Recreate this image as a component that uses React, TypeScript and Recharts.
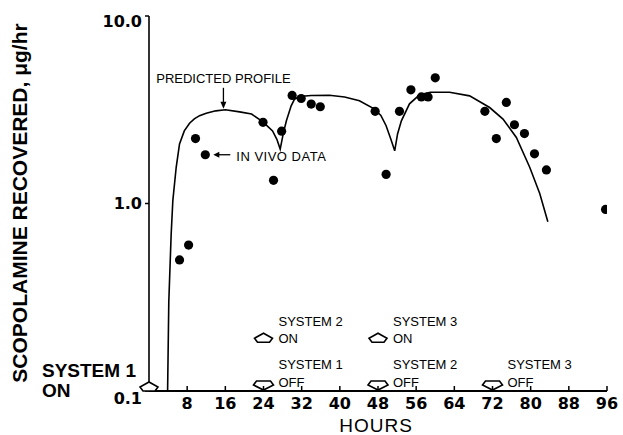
import React from 'react';
import { ComposedChart, Line, Scatter, XAxis, YAxis, ReferenceDot, Customized } from 'recharts';

// Predicted profile (hours, µg/hr)
const predictedHours = [3.9, 4.15, 4.65, 5.0, 5.7, 6.4, 7.4, 8.5, 9.5, 10.6, 12, 14, 16, 19, 21.5, 23.2, 24.6, 25.9, 26.8, 27.5, 28.2, 28.8, 29.8, 30.5, 31.5, 34, 37.8, 41, 44.1, 47.2, 48.6, 49.7, 50.7, 51.5, 52.1, 52.9, 54.6, 56.7, 59, 63, 67.2, 71.4, 74.2, 77, 79.8, 81.9, 83.6];
const predictedValues = [0.1, 0.3, 0.69, 1.04, 1.56, 2.08, 2.44, 2.68, 2.83, 2.94, 3.03, 3.12, 3.16, 3.08, 3.0, 2.8, 2.62, 2.44, 2.2, 1.95, 2.4, 2.76, 3.32, 3.6, 3.72, 3.77, 3.78, 3.7, 3.53, 3.2, 2.95, 2.6, 2.2, 1.91, 2.35, 2.76, 3.4, 3.8, 3.92, 3.92, 3.75, 3.25, 2.82, 2.25, 1.56, 1.13, 0.8];

// In vivo data
const vivoHours = [6.4, 8.3, 9.75, 11.8, 23.9, 26.1, 27.8, 30.0, 31.9, 34.0, 35.9, 47.4, 49.7, 52.5, 54.9, 57.1, 58.5, 60.0, 70.4, 72.8, 74.9, 76.6, 78.7, 80.8, 83.3, 95.7];
const vivoValues = [0.50, 0.60, 2.22, 1.82, 2.71, 1.33, 2.43, 3.77, 3.63, 3.39, 3.28, 3.1, 1.43, 3.1, 4.04, 3.7, 3.7, 4.68, 3.1, 2.22, 3.46, 2.63, 2.36, 1.84, 1.51, 0.93];

const hourTicks = [8, 16, 24, 32, 40, 48, 56, 64, 72, 80, 88, 96];
const yTicks = [0.1, 1, 10];
const yTickLabels = ['0.1', '1.0', '10.0'];

// System on/off events
const eventHours = [0, 24, 24, 48, 48, 72];
const eventKinds = ['on', 'on', 'off', 'on', 'off', 'off'];
const eventLevels = [0.1, 0.182, 0.1, 0.182, 0.1, 0.1];
const eventLine1 = ['', 'SYSTEM 2', 'SYSTEM 1', 'SYSTEM 3', 'SYSTEM 2', 'SYSTEM 3'];
const eventLine2 = ['', 'ON', 'OFF', 'ON', 'OFF', 'OFF'];

const predictedLabel = { hour: 15.6, value: 3.16, text: 'PREDICTED PROFILE' };
const vivoLabel = { hour: 11.8, value: 1.82, text: 'IN VIVO DATA' };

const predicted = predictedHours.map((h, i) => ({ hour: h, value: predictedValues[i] }));
const vivo = vivoHours.map((h, i) => ({ hour: h, value: vivoValues[i] }));

const SANS = '"Liberation Sans", Arial, sans-serif';
const WIDE = '"DejaVu Sans", sans-serif';

const XTick = (p: any) => {
  const { x, y, payload } = p;
  return (
    <g>
      <line x1={x} x2={x} y1={y} y2={y - 5} stroke="#000" strokeWidth={1.5} />
      <text x={x} y={y + 17.5} textAnchor="middle" fontFamily={WIDE} fontWeight="bold" fontSize={16} fill="#000">
        {payload.value}
      </text>
    </g>
  );
};

const YTick = (p: any) => {
  const { x, y, payload } = p;
  const idx = yTicks.indexOf(payload.value);
  const dy = payload.value === 10 ? 11 : payload.value === 0.1 ? 12.5 : 5.5;
  return (
    <text x={x} y={y + dy} textAnchor="end" fontFamily={WIDE} fontWeight="bold" fontSize={16} fill="#000">
      {yTickLabels[idx]}
    </text>
  );
};

const Dot = (p: any) => <circle cx={p.cx} cy={p.cy} r={4.6} fill="#000" />;

const makeEvent = (i: number) => (p: any) => {
  const { cx, cy } = p;
  const kind = eventKinds[i];
  const tx = cx + 15;
  if (kind === 'on') {
    const pts = `${cx - 6},${cy} ${cx + 6},${cy} ${cx + 9},${cy - 4} ${cx},${cy - 9} ${cx - 9},${cy - 4}`;
    return (
      <g>
        <polygon points={pts} fill="#fff" stroke="#000" strokeWidth={1.6} />
        {eventLine1[i] && (
          <text x={tx} y={cy - 16} fontFamily={SANS} fontSize={13} fill="#000">{eventLine1[i]}</text>
        )}
        {eventLine2[i] && (
          <text x={tx} y={cy + 1} fontFamily={SANS} fontSize={13} fill="#000">{eventLine2[i]}</text>
        )}
      </g>
    );
  }
  const pts = `${cx - 7},${cy - 10} ${cx + 7},${cy - 10} ${cx + 10},${cy - 6} ${cx},${cy - 1} ${cx - 10},${cy - 6}`;
  return (
    <g>
      <polygon points={pts} fill="#fff" stroke="#000" strokeWidth={1.6} />
      <text x={tx} y={cy - 22} fontFamily={SANS} fontSize={13} fill="#000">{eventLine1[i]}</text>
      <text x={tx} y={cy - 4} fontFamily={SANS} fontSize={13} fill="#000">{eventLine2[i]}</text>
    </g>
  );
};

const PredictedMark = (p: any) => {
  const { cx, cy } = p;
  return (
    <g>
      <line x1={cx} x2={cx} y1={cy - 22} y2={cy - 5} stroke="#000" strokeWidth={1.3} />
      <polygon points={`${cx},${cy - 1} ${cx - 3},${cy - 8} ${cx + 3},${cy - 8}`} fill="#000" />
      <text x={cx} y={cy - 27} textAnchor="middle" fontFamily={SANS} fontSize={13} fill="#000">
        {predictedLabel.text}
      </text>
    </g>
  );
};

const VivoMark = (p: any) => {
  const { cx, cy } = p;
  return (
    <g>
      <line x1={cx + 12} x2={cx + 25} y1={cy} y2={cy} stroke="#000" strokeWidth={1.3} />
      <polygon points={`${cx + 8},${cy} ${cx + 14},${cy - 3} ${cx + 14},${cy + 3}`} fill="#000" />
      <text x={cx + 31} y={cy + 6.5} fontFamily={SANS} fontSize={13} letterSpacing={0.5} fill="#000">
        {vivoLabel.text}
      </text>
    </g>
  );
};

const StaticText = () => (
  <g>
    <text
      transform="rotate(-90)"
      x={-203}
      y={27}
      textAnchor="middle"
      fontFamily={SANS}
      fontWeight="bold"
      fontSize={21}
      fill="#000"
    >
      SCOPOLAMINE RECOVERED, μg/hr
    </text>
    <text x={42} y={376.5} fontFamily={SANS} fontWeight="bold" fontSize={19} fill="#000">SYSTEM 1</text>
    <text x={42} y={397} fontFamily={SANS} fontWeight="bold" fontSize={19} fill="#000">ON</text>
    <text x={376} y={432} textAnchor="middle" fontFamily={SANS} fontSize={19} letterSpacing={1} fill="#000">HOURS</text>
  </g>
);

export default function App() {
  return (
    <div style={{ position: 'absolute', left: 0, top: 0, width: 623, height: 435, background: '#fff' }}>
      <ComposedChart width={623} height={435} margin={{ top: 16, right: 16, bottom: 0, left: 0 }}>
        <XAxis
          type="number"
          dataKey="hour"
          domain={[0, 96]}
          ticks={hourTicks}
          allowDataOverflow
          height={44}
          tickSize={0}
          tickMargin={0}
          tickLine={false}
          tick={XTick}
          axisLine={{ stroke: '#000', strokeWidth: 1.8 }}
        />
        <YAxis
          type="number"
          dataKey="value"
          scale="log"
          domain={[0.1, 10]}
          ticks={yTicks}
          allowDataOverflow
          width={149}
          tickSize={4}
          tickMargin={3}
          tickLine={{ stroke: '#000', strokeWidth: 1.5 }}
          tick={YTick}
          axisLine={{ stroke: '#000', strokeWidth: 1.6 }}
        />
        <Line
          data={predicted}
          dataKey="value"
          type="linear"
          stroke="#000"
          strokeWidth={1.6}
          dot={false}
          activeDot={false}
          isAnimationActive={false}
        />
        <Scatter data={vivo} dataKey="value" shape={Dot} isAnimationActive={false} />
        {eventHours.map((h, i) => (
          <ReferenceDot key={i} x={h} y={eventLevels[i]} r={0} ifOverflow="visible" shape={makeEvent(i)} />
        ))}
        <ReferenceDot x={predictedLabel.hour} y={predictedLabel.value} r={0} ifOverflow="visible" shape={PredictedMark} />
        <ReferenceDot x={vivoLabel.hour} y={vivoLabel.value} r={0} ifOverflow="visible" shape={VivoMark} />
        <Customized component={StaticText} />
      </ComposedChart>
    </div>
  );
}
